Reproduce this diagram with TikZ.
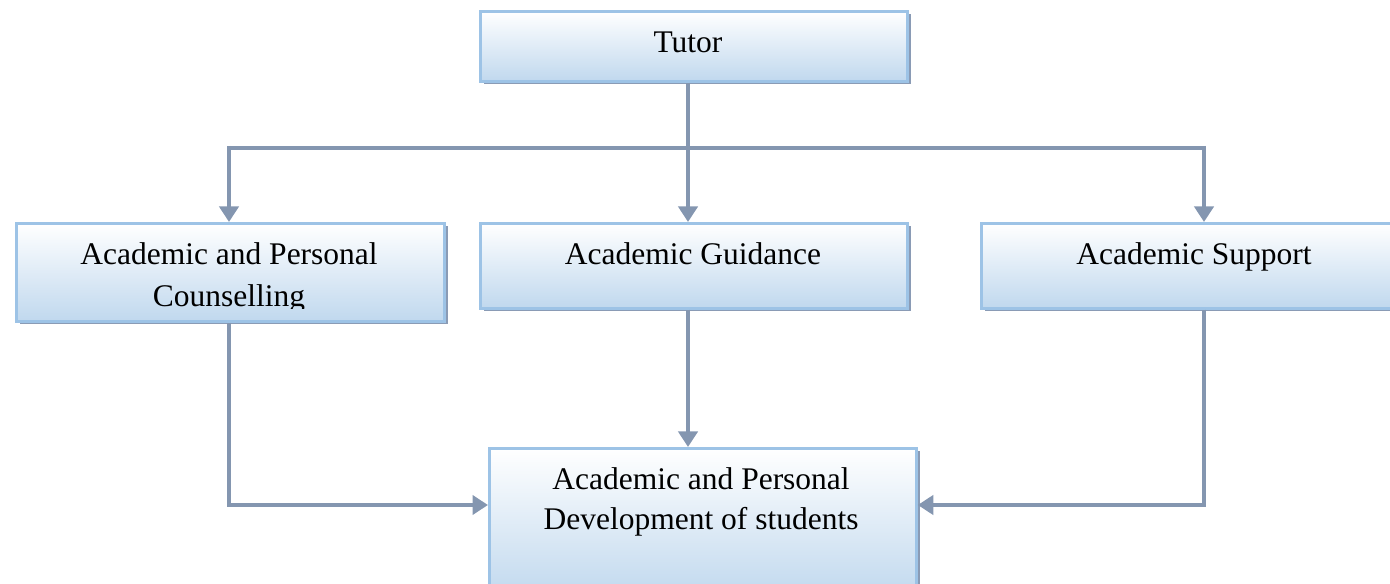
\documentclass[tikz,border=0pt]{standalone}
\usepackage{fontspec}
\setmainfont{Liberation Serif}
\usetikzlibrary{arrows.meta}
\definecolor{linec}{RGB}{132,150,176}
\definecolor{bordc}{RGB}{157,195,230}
\definecolor{boxbot}{RGB}{192,216,238}
\definecolor{shadc}{RGB}{138,155,181}
\tikzset{
  px/.style={x=0.4pt,y=-0.4pt},
  boxshape/.style={draw=bordc, line width=1.1pt, top color=white, bottom color=boxbot, inner sep=0pt, anchor=north west},
  shad/.style={fill=shadc, draw=none, inner sep=0pt, anchor=north west},
  lbl/.style={font=\fontsize{12.6}{17}\selectfont, anchor=base, inner sep=0pt},
  conn/.style={draw=linec, line width=1.6pt},
  arr/.style={conn, -{Triangle[width=7.6pt,length=6.2pt]}}
}
\begin{document}
\begin{tikzpicture}[px]
\useasboundingbox (0,0) rectangle (1390,584);
% shadows
\node[shad, minimum width=170.8pt, minimum height=28pt] (tutorS) at (483,14) {};
\node[shad, minimum width=171.2pt, minimum height=39.2pt] (counS) at (19,226) {};
\node[shad, minimum width=170.8pt, minimum height=34pt] (guidS) at (483,226) {};
\node[shad, minimum width=170pt, minimum height=34pt] (suppS) at (984,226) {};
\node[shad, minimum width=170.8pt, minimum height=60pt] (devS) at (492,451) {};
% boxes
\node[boxshape, minimum width=170.8pt, minimum height=28pt] (tutor) at (479,10) {};
\node[boxshape, minimum width=171.2pt, minimum height=39.2pt] (coun) at (15,222) {};
\node[boxshape, minimum width=170.8pt, minimum height=34pt] (guid) at (479,222) {};
\node[boxshape, minimum width=170pt, minimum height=34pt] (supp) at (980,222) {};
\node[boxshape, minimum width=170.8pt, minimum height=60pt] (dev) at (488,447) {};
% texts
\node[lbl] (tutorT) at (688,53) {Tutor};
\begin{scope}
\clip (coun.north west) rectangle (443,309);
\node[lbl] (counT1) at (229,265) {Academic and Personal};
\node[lbl] (counT2) at (229,307) {Counselling};
\end{scope}
\node[lbl] (guidT) at (693,265) {Academic Guidance};
\node[lbl] (suppT) at (1194,265) {Academic Support};
\node[lbl] (devT1) at (701,489) {Academic and Personal};
\node[lbl] (devT2) at (701,530) {Development of students};
% connectors
\coordinate (jL) at (229,148);
\coordinate (jM) at (688,148);
\coordinate (jR) at (1204,148);
\draw[conn] (jL) -- (jR);
\draw[conn] (tutor.south -| jM) -- (jM);
\draw[arr] ([yshift=0.8pt]jL) -- (jL |- coun.north);
\draw[arr] (jM) -- (jM |- guid.north);
\draw[arr] ([yshift=0.8pt]jR) -- (jR |- supp.north);
\coordinate (bL) at (229,505);
\coordinate (bR) at (1204,505);
\draw[arr] (coun.south -| bL) -- (bL) -- (bL -| dev.west);
\draw[arr] (guid.south -| jM) -- (jM |- dev.north);
\draw[arr] (supp.south -| bR) -- (bR) -- (bR -| dev.east);
\end{tikzpicture}
\end{document}
